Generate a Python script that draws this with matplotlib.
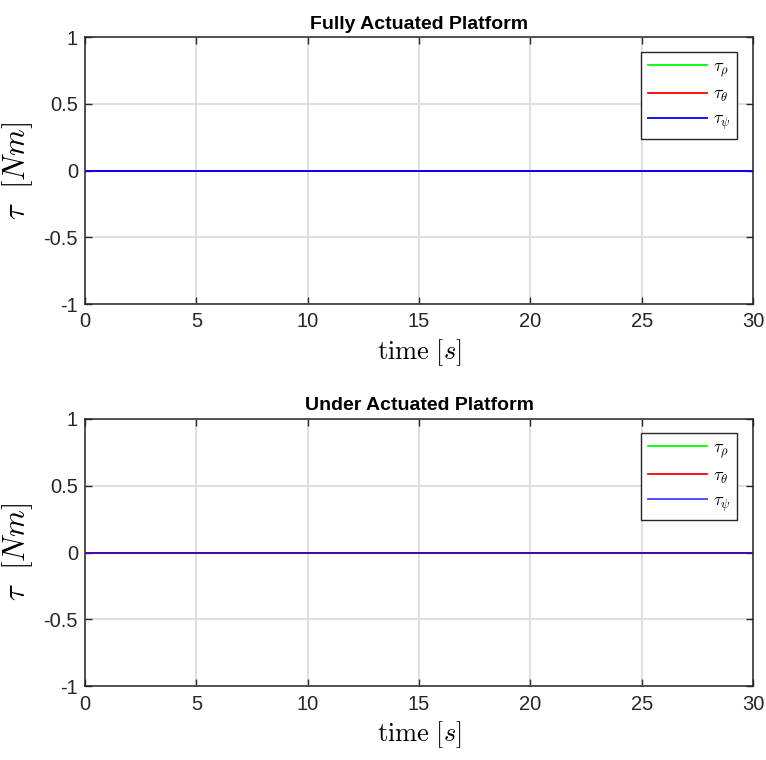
import numpy as np
from matplotlib import pyplot as plt

# data: torques are zero over the whole run
t = [0, 30]
tau_rho = [0, 0]
tau_theta = [0, 0]
tau_psi = [0, 0]
titles = ["Fully Actuated Platform", "Under Actuated Platform"]
xticks = [0, 5, 10, 15, 20, 25, 30]
yticks = [-1, -0.5, 0, 0.5, 1]
yticklabels = ["-1", "-0.5", "0", "0.5", "1"]

plt.rcParams['font.family'] = ['Liberation Sans', 'DejaVu Sans']
plt.rcParams['mathtext.fontset'] = 'cm'

fig = plt.figure(figsize=(7.66, 7.60), dpi=100)
boxes = [[0.111, 0.600, 0.872, 0.351], [0.111, 0.097, 0.872, 0.352]]

for k in range(2):
    ax = fig.add_axes(boxes[k])
    ax.plot(t, tau_rho, color='#00ff00', lw=1.3, label=r'$\tau_\rho$')
    ax.plot(t, tau_theta, color='#ff0000', lw=1.3, label=r'$\tau_\theta$')
    if k == 0:
        ax.plot(t, tau_psi, color='#0000ff', lw=1.3, label=r'$\tau_\psi$')
    else:
        ax.plot(t, tau_psi, color='#0000ff', lw=1.3, alpha=0.75, label=r'$\tau_\psi$')
    ax.set_xlim(0, 30)
    ax.set_ylim(-1, 1)
    ax.set_xticks(xticks)
    ax.set_yticks(yticks)
    ax.set_yticklabels(yticklabels)
    ax.grid(True, color='#dcdcdc', lw=1.3)
    ax.set_axisbelow(True)
    ax.tick_params(direction='in', top=True, right=True, length=5, width=1,
                   labelsize=14.5, colors='#262626', labelcolor='#262626')
    ax.tick_params(axis='x', pad=6)
    ax.tick_params(axis='y', pad=5)
    for s in ax.spines.values():
        s.set_color('#262626')
        s.set_linewidth(1.1)
    ax.set_title(titles[k], fontsize=14, fontweight='bold', pad=6)
    ax.set_xlabel(r'$\mathrm{time}\ [s]$', fontsize=19, labelpad=4)
    ax.set_ylabel(r'$\tau\ \ [Nm]$', fontsize=22, labelpad=6)
    leg = ax.legend(loc='upper right', bbox_to_anchor=(0.976, 0.946), fontsize=13,
                    fancybox=False, framealpha=1, edgecolor='#262626',
                    handlelength=3.3, handletextpad=0.3, borderpad=0.35,
                    labelspacing=0.4, borderaxespad=0)
    leg.get_frame().set_linewidth(1.0)

fig.savefig("out.png", dpi=100)
